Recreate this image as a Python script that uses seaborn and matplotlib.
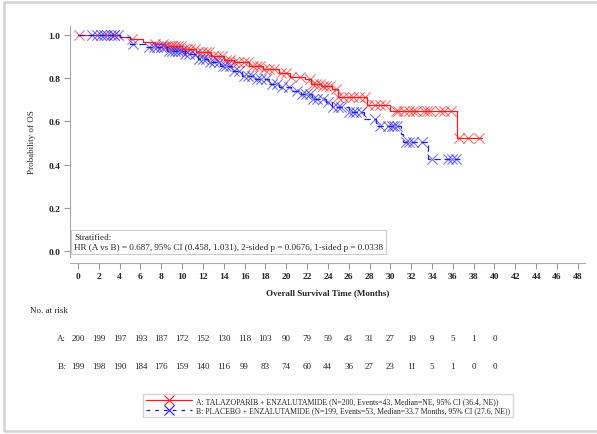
import numpy as np
import pandas as pd
import matplotlib
matplotlib.use("Agg")
import matplotlib.pyplot as plt
import matplotlib.transforms as mtransforms
from matplotlib.lines import Line2D
from matplotlib.patches import Rectangle
import seaborn as sns

# Kaplan-Meier step data
time_a = [0, 4.0, 5.0, 6.2, 7.4, 8.4, 10.0, 11.3, 12.8, 14.0, 15.0, 16.4, 17.8, 19.3,
          20.4, 21.8, 22.4, 23.3, 24.4, 25.0, 27.8, 30.0, 36.4, 38.8]
surv_a = [1.0, 0.99, 0.98, 0.968, 0.958, 0.948, 0.935, 0.922, 0.905, 0.885, 0.873, 0.858,
          0.843, 0.822, 0.805, 0.795, 0.775, 0.765, 0.75, 0.712, 0.675, 0.65, 0.522, 0.522]
time_b = [0, 4.0, 5.0, 6.5, 8.5, 10.3, 11.5, 12.5, 13.6, 14.8, 15.8, 17.0, 18.3, 19.3,
          20.5, 21.4, 22.5, 23.8, 24.4, 26.0, 27.5, 28.6, 31.0, 31.2, 33.6, 36.7]
surv_b = [1.0, 0.99, 0.96, 0.945, 0.927, 0.912, 0.89, 0.875, 0.855, 0.832, 0.81, 0.795,
          0.775, 0.758, 0.742, 0.725, 0.704, 0.69, 0.667, 0.643, 0.61, 0.58, 0.54, 0.506,
          0.426, 0.426]

# censoring times
cens_a = [0.1, 3.5, 5.2, 7.4, 8.2, 8.5, 8.8, 9.0, 9.3, 9.6, 9.9, 10.2, 10.5, 10.8, 11.2,
          11.5, 11.9, 12.3, 12.6, 13.0, 13.4, 13.8, 14.2, 14.6, 15.0, 15.4, 15.9, 16.3,
          16.8, 17.2, 17.5, 17.9, 18.3, 18.8, 19.5, 20.0, 20.5, 21.3, 22.3, 22.6, 22.9,
          23.2, 23.5, 23.8, 24.2, 24.8, 25.0, 25.5, 26.0, 26.4, 27.0, 27.6, 27.9, 28.5,
          29.0, 29.5, 30.5, 30.7, 31.3, 31.8, 32.2, 32.5, 33.2, 33.5, 33.8, 34.8, 35.2,
          35.8, 36.6, 37.5, 38.5]
cens_b = [1.3, 1.8, 2.2, 2.5, 2.8, 3.2, 3.5, 3.8, 5.3, 6.8, 7.3, 7.6, 8.0, 8.3, 8.7, 9.0,
          9.3, 9.6, 9.9, 10.3, 10.7, 11.2, 11.6, 12.0, 12.3, 12.7, 13.1, 13.5, 13.9, 14.2,
          14.6, 15.0, 15.5, 15.9, 16.3, 16.7, 17.2, 17.6, 18.1, 18.6, 19.1, 19.6, 20.3,
          21.0, 21.5, 21.9, 22.3, 22.6, 23.0, 23.5, 24.0, 24.5, 25.0, 25.3, 26.0, 26.4,
          26.7, 27.2, 28.5, 29.0, 29.8, 30.2, 30.4, 30.6, 31.5, 31.8, 32.2, 33.0, 34.0,
          35.5, 35.9, 36.3]

risk_times = list(range(0, 42, 2))
risk_a = [200, 199, 197, 193, 187, 172, 152, 130, 118, 103, 90, 79, 59, 43, 31, 27, 19, 9, 5, 1, 0]
risk_b = [199, 198, 190, 184, 176, 159, 140, 116, 99, 83, 74, 60, 44, 36, 27, 23, 11, 5, 1, 0, 0]

label_a = "A: TALAZOPARIB + ENZALUTAMIDE (N=200, Events=43, Median=NE, 95% CI (36.4, NE))"
label_b = "B: PLACEBO + ENZALUTAMIDE (N=199, Events=53, Median=33.7 Months, 95% CI (27.6, NE))"
stats_text = ("Stratified:\nHR (A vs B) = 0.687, 95% CI (0.458, 1.031), "
              "2-sided p = 0.0676, 1-sided p = 0.0338")

RED = "#ff1a1a"
BLUE = "#1a1aff"


def step_value(times, surv, t):
    idx = np.searchsorted(times, t, side="right") - 1
    return np.asarray(surv)[idx]


sns.set_theme(style="white")
plt.rcParams["font.family"] = ["Liberation Serif", "DejaVu Serif"]

W, H = 597, 435
fig = plt.figure(figsize=(W / 100, H / 100), dpi=100)
ax = fig.add_axes([70 / W, 1 - 258 / H, 515 / W, 231 / H])

curve_a = pd.DataFrame({"t": time_a, "s": surv_a})
curve_b = pd.DataFrame({"t": time_b, "s": surv_b})
sns.lineplot(data=curve_a, x="t", y="s", ax=ax, color=RED, lw=0.9,
             drawstyle="steps-post", estimator=None, sort=False)
sns.lineplot(data=curve_b, x="t", y="s", ax=ax, color=BLUE, lw=0.9,
             drawstyle="steps-post", estimator=None, sort=False, linestyle=(0, (5, 3)))

cen_a = pd.DataFrame({"t": cens_a, "s": step_value(time_a, surv_a, cens_a)})
cen_b = pd.DataFrame({"t": cens_b, "s": step_value(time_b, surv_b, cens_b)})
sns.scatterplot(data=cen_a, x="t", y="s", ax=ax, marker="x", s=55, color=RED,
                linewidth=0.8, alpha=0.6)
sns.scatterplot(data=cen_b, x="t", y="s", ax=ax, marker="x", s=55, color=BLUE,
                linewidth=0.8, alpha=0.6)

sns.despine(ax=ax)
for sp in ["left", "bottom"]:
    ax.spines[sp].set_color("#a8a8a8")
    ax.spines[sp].set_linewidth(0.8)
ax.spines["bottom"].set_position(("outward", 4))

ax.set_xlim(-0.77, 48.7)
ax.set_ylim(-0.028, 1.042)
ax.set_xticks(range(0, 49, 2))
ax.set_yticks([0.0, 0.2, 0.4, 0.6, 0.8, 1.0])
ax.set_yticklabels(["0.0", "0.2", "0.4", "0.6", "0.8", "1.0"])
ax.tick_params(axis="both", length=4, width=0.8, color="#9a9a9a", pad=3,
               bottom=True, left=True, labelsize=6.8)
for lab in ax.get_xticklabels() + ax.get_yticklabels():
    lab.set_fontweight("bold")
ax.set_xlabel("Overall Survival Time (Months)", fontsize=6.5, fontweight="bold", labelpad=6)
ax.set_ylabel("Probability of OS", fontsize=6.5, labelpad=9)

ax.text(0.008, 0.025, stats_text, transform=ax.transAxes, fontsize=6.6,
        va="bottom", ha="left", linespacing=1.45,
        bbox=dict(boxstyle="square,pad=0.3", fc="white", ec="#cccccc", lw=0.8))

# number at risk table
tr = mtransforms.blended_transform_factory(ax.transData, fig.transFigure)
fig.text(30 / W, 1 - 311 / H, "No. at risk", fontsize=6.5, va="center", ha="left")
fig.text(66 / W, 1 - 339 / H, "A:", fontsize=6.5, va="center", ha="right")
fig.text(66 / W, 1 - 367 / H, "B:", fontsize=6.5, va="center", ha="right")
for t, na, nb in zip(risk_times, risk_a, risk_b):
    ax.text(t, 1 - 339 / H, str(na), transform=tr, fontsize=6.5, ha="center", va="center")
    ax.text(t, 1 - 367 / H, str(nb), transform=tr, fontsize=6.5, ha="center", va="center")

handles = [
    Line2D([], [], color=RED, lw=0.9, marker="x", markersize=7, markeredgewidth=0.8),
    Line2D([], [], color=BLUE, lw=0.9, ls=(0, (3, 4)), marker="x", markersize=7,
           markeredgewidth=0.8),
]
fig.legend(handles, [label_a, label_b], loc="center", bbox_to_anchor=(328 / W, 1 - 406.5 / H),
           fontsize=5.6, frameon=True, fancybox=False, edgecolor="#cccccc",
           handlelength=6.0, handletextpad=0.5, borderpad=0.3, labelspacing=0.2,
           borderaxespad=0)

# screenshot frame
fig.patches.append(Rectangle((4 / W, 1 - 432 / H), 600 / W, 429 / H,
                             transform=fig.transFigure, fill=False,
                             ec="#d4d4d4", lw=1.8))

fig.savefig("out.png", dpi=100)
